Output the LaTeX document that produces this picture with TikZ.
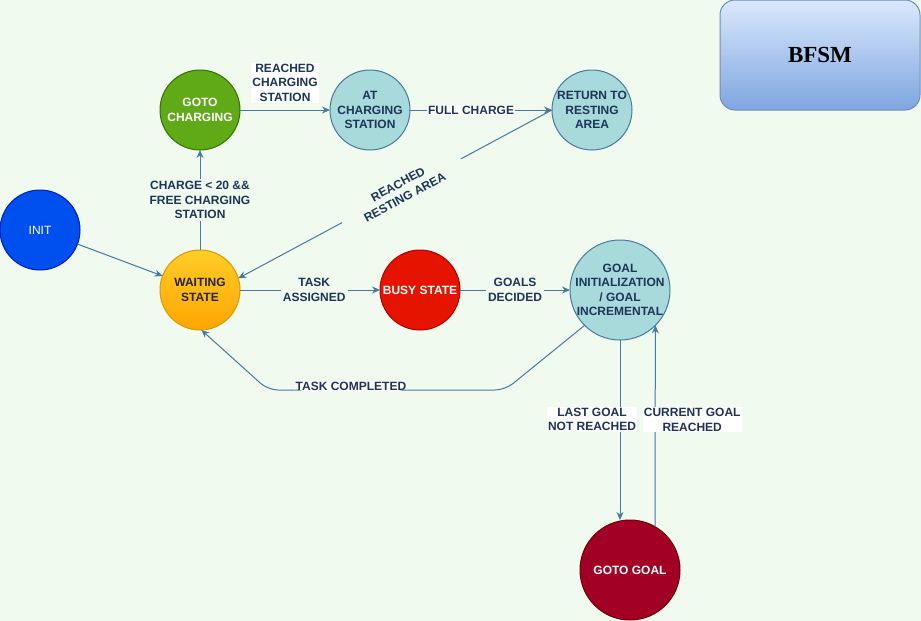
\documentclass[tikz,border=0pt]{standalone}
\usepackage{fontspec}
\setmainfont{Liberation Sans}
\newfontfamily\titlefont{Liberation Serif}
\usetikzlibrary{positioning}
\usetikzlibrary{arrows.meta}

\definecolor{bgcol}{HTML}{F1FAEE}
\definecolor{navy}{HTML}{1D3557}
\definecolor{steel}{HTML}{457B9D}
\definecolor{teal}{HTML}{A8DADC}
\definecolor{boxline}{HTML}{6C8EBF}

\begin{document}
\begin{tikzpicture}[x=1pt, y=-1pt,
    state/.style={draw, circle, minimum size=80pt, inner sep=-8pt, outer sep=0pt, align=center, line width=1pt,
        font=\fontsize{12}{14.5}\selectfont\bfseries},
    edge/.style={draw=steel, line width=1pt, -{Stealth[length=8pt,width=7pt]}},
    lbl/.style={fill=bgcol, text=navy, align=center, inner sep=2pt,
        font=\fontsize{12}{14.5}\selectfont\bfseries},
    wlbl/.style={lbl, fill=white, inner sep=1pt}]

    \fill[bgcol] (0,0) rectangle (921,621);
    \useasboundingbox (0,0) rectangle (921,621);

    \node[draw=boxline, rounded corners=15pt, minimum width=200pt, minimum height=110pt, line width=1pt,
        top color={rgb,255:red,218;green,232;blue,252}, bottom color={rgb,255:red,126;green,166;blue,224},
        font=\fontsize{23}{26}\selectfont\titlefont\bfseries] (bfsm) at (820,55) {BFSM};

    \node[state, fill={rgb,255:red,0;green,80;blue,239}, draw={rgb,255:red,0;green,29;blue,188},
        text=white, font=\fontsize{12}{14.5}\selectfont] (init) at (40,230) {INIT};
    \node[state, top color={rgb,255:red,255;green,205;blue,40}, bottom color={rgb,255:red,255;green,165;blue,0},
        draw={rgb,255:red,215;green,155;blue,0}, text=black!85] (waiting) at (200,290) {WAITING\\STATE};
    \node[state, fill={rgb,255:red,96;green,169;blue,23}, draw={rgb,255:red,45;green,118;blue,0},
        text=white, above=100pt of waiting] (gotocharging) {GOTO\\CHARGING};
    \node[state, fill=teal, draw=steel, text=navy, right=90pt of gotocharging] (atcharging) {AT\\CHARGING\\STATION};
    \node[state, fill=teal, draw=steel, text=navy, right=142pt of atcharging] (returnarea) {RETURN TO\\RESTING\\AREA};
    \node[state, fill={rgb,255:red,229;green,20;blue,0}, draw={rgb,255:red,178;green,0;blue,0},
        text=white, right=140pt of waiting] (busy) {BUSY STATE};
    \node[state, fill=teal, draw=steel, text=navy, minimum size=100pt, inner sep=-10pt,
        right=110pt of busy] (goalinit) {GOAL\\INITIALIZATION\\/ GOAL\\INCREMENTAL};
    \node[state, fill={rgb,255:red,162;green,0;blue,37}, draw={rgb,255:red,111;green,0;blue,0},
        text=white, minimum size=100pt, below=180pt of goalinit, xshift=10pt] (gotogoal) {GOTO GOAL};

    \draw[edge] (init) -- (waiting);
    \draw[edge] (waiting) -- node[lbl] {CHARGE < 20 \&\&\\FREE CHARGING\\STATION} (gotocharging);
    \draw[edge] (gotocharging) -- node[wlbl, above=7pt] {REACHED\\CHARGING\\STATION} (atcharging);
    \draw[edge] (atcharging) -- node[wlbl, pos=0.43] {FULL CHARGE} (returnarea);
    \draw[edge] (returnarea.west) -- node[lbl, sloped, pos=0.48, inner xsep=22pt] {REACHED\\RESTING AREA} (waiting.17);
    \draw[edge] (waiting) -- node[lbl, pos=0.53] {TASK\\ASSIGNED} (busy);
    \draw[edge] (busy) -- node[lbl] {GOALS\\DECIDED} (goalinit);
    \draw[edge, rounded corners=10pt] (goalinit.225) -- (505,390)
        -- node[wlbl, pos=0.65, yshift=4pt] {TASK COMPLETED} (268,390) -- (waiting.272);
    \draw[edge] (goalinit.south) -- node[wlbl, pos=0.44, xshift=-28pt] {LAST GOAL\\NOT REACHED}
        (gotogoal.north -| goalinit.south);
    \draw[edge] (gotogoal.60) -- node[wlbl, pos=0.53, xshift=37pt] {CURRENT GOAL\\REACHED} (goalinit.-45);

\end{tikzpicture}
\end{document}
